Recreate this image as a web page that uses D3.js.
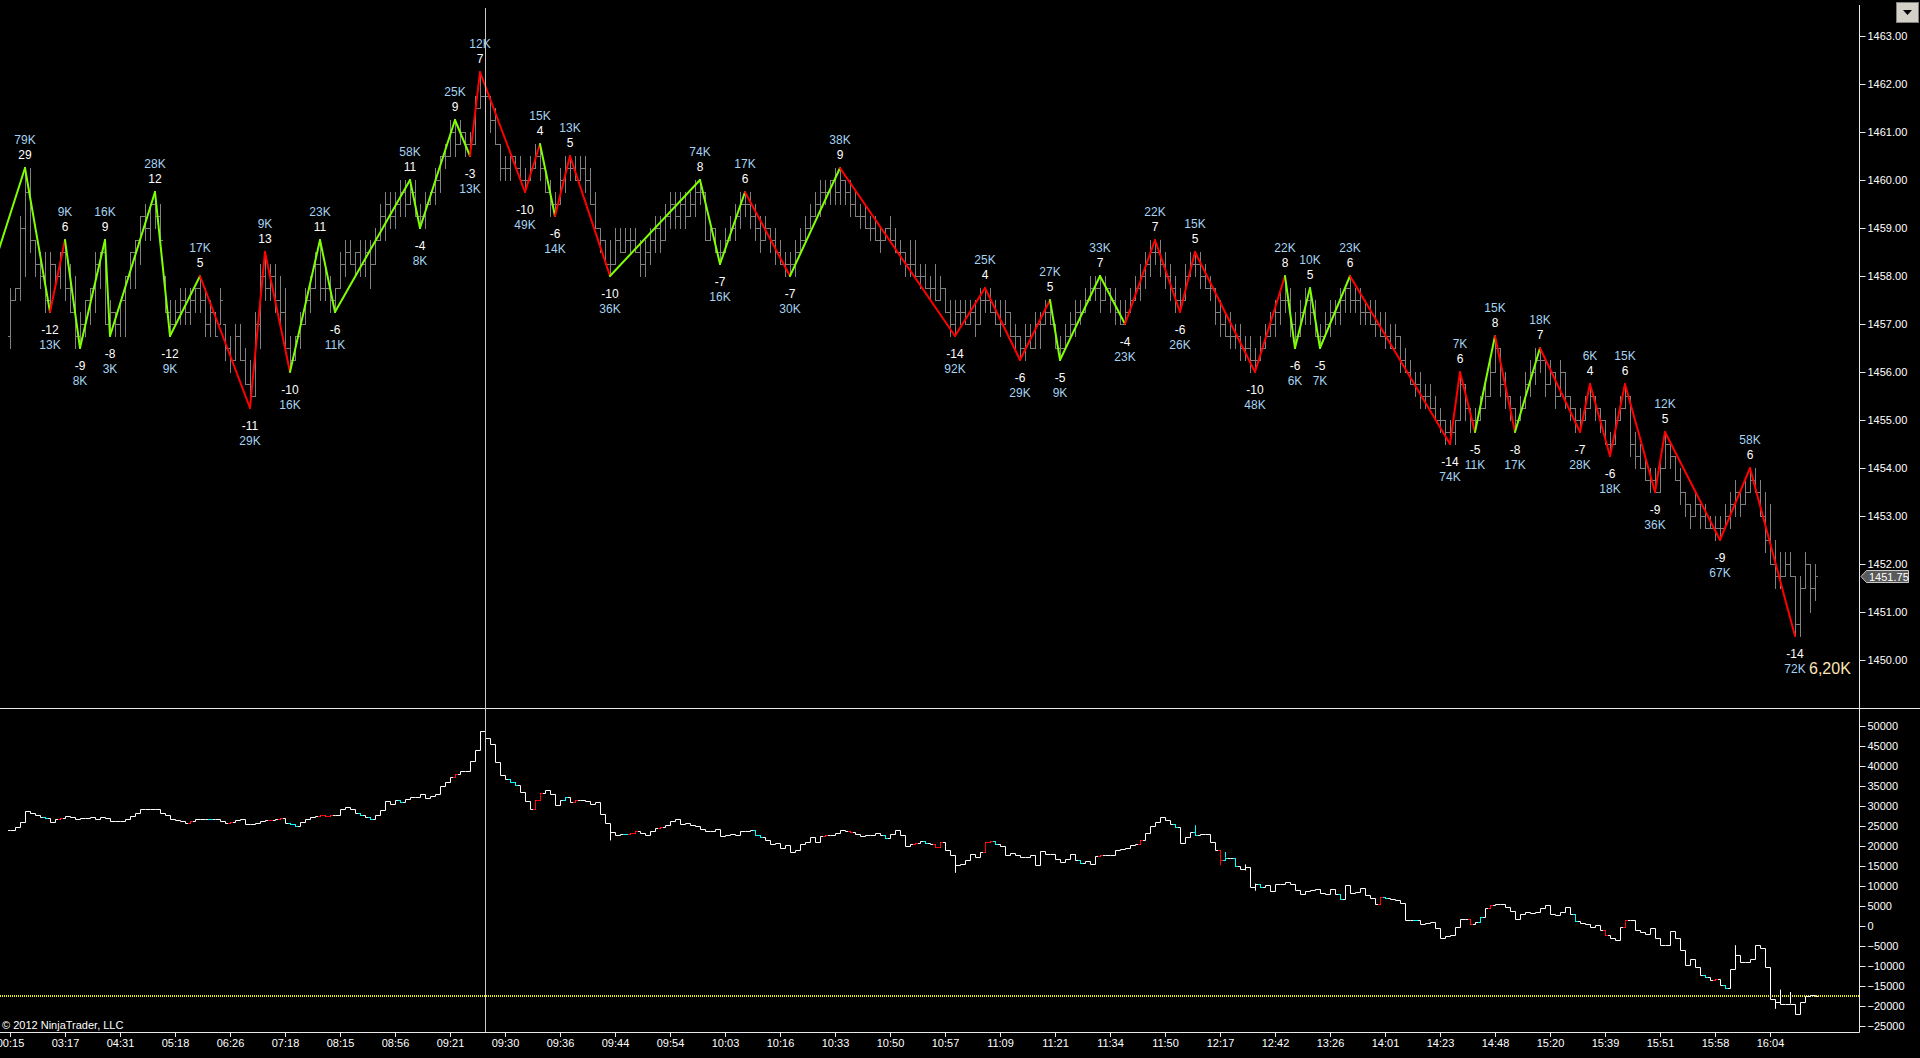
<!DOCTYPE html>
<html>
<head>
<meta charset="utf-8">
<script src="https://cdn.jsdelivr.net/npm/d3@7"></script>
<style>
  html, body { margin: 0; padding: 0; background: #000; overflow: hidden; }
  svg { display: block; }
  text { font-family: "Liberation Sans", Arial, sans-serif; }
</style>
</head>
<body>
<svg id="chart" width="1920" height="1058"></svg>
<script>
// bar index of the first drawn bar; bars are 5px apart
const FIRST_BAR = 2;

// price bars as [high, low, open, close] in quarter-point ticks above 1450.00
const priceBars = [
  [31,26,27,30],[31,30,30,31],[37,30,31,36],[41,32,36,39],[41,34,39,35],[35,32,35,33],[34,31,33,32],[34,29,32,30],[34,29,30,33],[33,31,33,32],
  [34,31,32,34],[35,30,34,31],[33,29,31,29],[32,26,29,27],[29,26,27,28],[30,27,28,30],[31,28,30,31],[34,29,31,33],[34,31,33,34],[35,28,34,28],
  [30,27,28,29],[29,27,29,28],[30,27,28,30],[32,27,30,32],[34,31,32,34],[35,31,34,35],[37,33,35,37],[38,35,37,36],[38,35,36,38],[39,36,38,37],
  [38,35,37,35],[32,29,32,29],[30,27,29,28],[30,28,28,29],[31,28,29,30],[31,28,30,29],[31,28,29,30],[31,29,30,31],[32,29,31,30],[31,27,30,28],
  [30,27,28,29],[29,27,29,27],[31,28,28,30],[28,25,28,26],[27,24,26,25],[28,25,25,27],[28,25,27,25],[26,23,25,23],[25,21,23,22],[29,22,22,28],
  [33,26,28,32],[34,30,32,31],[33,30,31,32],[33,29,32,30],[32,28,30,29],[31,26,29,26],[27,24,26,25],[27,25,25,27],[29,26,27,28],[31,28,28,30],
  [32,29,30,31],[34,31,31,33],[35,30,33,31],[33,30,31,31],[32,29,31,30],[31,29,30,31],[34,31,31,33],[35,32,33,34],[35,33,34,33],[34,32,33,34],
  [35,32,34,33],[35,32,33,34],[35,31,34,33],[36,33,33,35],[38,35,35,37],[39,35,37,38],[39,36,38,37],[39,36,37,38],[40,37,38,39],[40,37,39,38],
  [40,38,38,39],[40,37,39,37],[38,36,37,37],[39,36,37,38],[39,38,38,39],[41,38,39,40],[42,39,40,42],[43,41,42,42],[45,42,42,44],[45,42,44,43],
  [45,43,43,44],[44,42,44,43],[44,42,43,43],[47,43,43,46],[49,46,46,47],[48,46,47,47],[47,44,47,45],[46,43,45,43],[43,40,43,41],[42,40,41,41],
  [42,40,41,42],[42,41,42,41],[42,40,41,40],[41,39,40,40],[42,40,40,41],[43,41,41,42],[43,40,42,41],[41,39,41,39],[40,37,39,38],[39,37,38,38],
  [41,38,38,40],[42,39,40,41],[42,40,41,41],[42,40,41,40],[42,40,40,41],[42,39,41,40],[41,38,40,38],[39,36,38,36],[36,34,36,35],[35,33,35,33],
  [35,32,33,33],[36,33,33,35],[36,34,35,34],[36,34,34,35],[36,34,35,35],[36,34,35,34],[35,32,34,33],[35,32,33,34],[36,33,34,35],[37,34,35,36],
  [37,34,36,35],[38,35,35,37],[39,36,37,38],[39,36,38,37],[39,36,37,38],[39,36,38,37],[39,37,37,38],[40,37,38,39],[40,38,39,39],[39,35,39,35],
  [36,35,35,36],[36,34,36,34],[35,33,34,34],[36,34,34,35],[37,35,35,36],[38,35,36,37],[39,36,37,38],[39,37,38,38],[39,36,38,37],[38,35,37,36],
  [37,34,36,35],[37,35,35,36],[36,34,36,35],[36,33,35,34],[35,33,34,33],[34,32,33,33],[34,32,33,33],[35,32,33,34],[36,34,34,35],[37,35,35,36],
  [38,36,36,37],[39,37,37,38],[40,37,38,39],[40,38,39,39],[40,38,39,40],[41,38,40,39],[41,38,39,40],[40,38,40,39],[40,37,39,38],[39,37,38,37],
  [38,36,37,37],[38,36,37,36],[37,35,36,36],[37,35,36,35],[36,34,35,35],[36,35,35,36],[37,35,36,35],[36,34,35,34],[35,33,34,34],[34,32,34,33],
  [35,32,33,33],[35,32,33,32],[33,31,32,32],[33,31,32,31],[32,30,31,31],[33,30,31,30],[32,30,30,31],[31,29,31,29],[30,27,29,28],[30,27,28,29],
  [30,28,29,29],[30,28,29,28],[30,28,28,29],[30,27,29,28],[31,28,28,30],[31,29,30,30],[31,29,30,29],[30,28,29,28],[30,27,28,28],[30,28,28,29],
  [29,27,29,27],[28,26,27,27],[27,25,27,26],[28,25,26,27],[28,26,27,26],[29,26,26,28],[29,26,28,28],[30,28,28,29],[30,28,29,28],[28,26,28,26],
  [27,25,26,26],[28,26,26,27],[29,27,27,28],[30,27,28,29],[30,28,29,29],[31,29,29,30],[32,30,30,31],[32,30,31,31],[32,29,31,30],[32,30,30,31],
  [31,29,31,30],[31,28,30,29],[30,28,29,28],[30,28,28,29],[31,29,29,30],[32,30,30,31],[33,30,31,32],[34,31,32,33],[35,32,33,34],[35,33,34,34],
  [35,32,34,33],[34,31,33,32],[33,30,32,31],[32,29,31,30],[31,29,30,30],[33,30,30,32],[34,32,32,33],[34,32,33,33],[34,31,33,32],[33,31,32,31],
  [32,30,31,31],[31,28,31,29],[30,27,29,28],[29,27,28,27],[29,26,27,27],[28,26,27,27],[28,25,27,26],[27,25,26,26],[27,24,26,25],[26,24,25,25],
  [27,25,25,26],[28,26,26,27],[29,27,27,28],[30,27,28,29],[31,28,29,30],[32,29,30,30],[31,27,30,28],[29,26,28,27],[30,27,27,29],[31,28,29,30],
  [31,28,30,29],[30,27,29,27],[28,26,27,27],[29,27,27,28],[30,27,28,29],[30,28,29,29],[31,28,29,30],[31,29,30,31],[32,29,31,30],[31,29,30,30],
  [31,28,30,29],[30,28,29,29],[30,28,29,28],[30,27,28,28],[29,27,28,27],[29,26,27,27],[28,26,27,26],[28,26,26,27],[27,24,27,25],[26,24,25,24],
  [25,23,24,23],[24,22,23,23],[24,21,23,22],[23,21,22,22],[23,21,22,21],[22,20,21,20],[21,19,20,20],[20,18,20,19],[20,18,19,19],[20,18,19,20],
  [24,20,20,23],[23,20,23,21],[21,19,21,20],[21,19,20,20],[22,20,20,21],[23,21,21,22],[25,22,22,24],[27,24,24,26],[26,22,26,23],[24,21,23,22],
  [22,20,22,21],[21,19,21,20],[22,20,20,21],[24,21,21,23],[25,22,23,24],[26,23,24,25],[26,24,25,25],[25,22,25,23],[25,23,23,24],[24,21,24,22],
  [25,22,22,24],[24,21,24,22],[22,20,22,21],[21,19,21,20],[21,19,20,20],[22,20,20,21],[23,21,21,22],[22,20,22,21],[21,19,21,20],[20,18,20,18],
  [19,17,18,18],[21,18,18,20],[22,20,20,21],[23,21,21,22],[22,17,22,18],[19,16,18,17],[18,16,17,16],[17,15,16,15],[16,14,15,15],[16,14,15,14],
  [17,14,14,16],[19,16,16,18],[18,16,18,17],[17,15,17,15],[16,13,15,14],[14,12,14,13],[13,11,13,12],[14,12,12,13],[13,11,13,12],[13,11,12,11],
  [12,11,11,11],[12,10,11,11],[12,10,11,11],[13,11,11,12],[14,11,12,13],[15,12,13,14],[14,12,14,13],[15,13,13,14],[16,14,14,15],[16,14,15,14],
  [15,12,14,12],[14,9,12,10],[13,8,10,8],[10,6,8,7],[9,6,7,7],[9,7,7,8],[9,7,8,7],[7,2,7,3],[7,2,3,6],[9,6,6,8],
  [8,4,8,6],[8,5,6,7]
];

// zigzag swing points: [bar, tick, volume, count]; negative count = swing low
const zigStart = [-5, 28];
const swings = [
  [5,41,'79K','29'],[10,29,'13K','-12'],[13,35,'9K','6'],[16,26,'8K','-9'],[21,35,'16K','9'],
  [22,27,'3K','-8'],[31,39,'28K','12'],[34,27,'9K','-12'],[40,32,'17K','5'],[50,21,'29K','-11'],
  [53,34,'9K','13'],[58,24,'16K','-10'],[64,35,'23K','11'],[67,29,'11K','-6'],[82,40,'58K','11'],
  [84,36,'8K','-4'],[91,45,'25K','9'],[94,42,'13K','-3'],[96,49,'12K','7'],[105,39,'49K','-10'],
  [108,43,'15K','4'],[111,37,'14K','-6'],[114,42,'13K','5'],[122,32,'36K','-10'],[140,40,'74K','8'],
  [144,33,'16K','-7'],[149,39,'17K','6'],[158,32,'30K','-7'],[168,41,'38K','9'],[191,27,'92K','-14'],
  [197,31,'25K','4'],[204,25,'29K','-6'],[210,30,'27K','5'],[212,25,'9K','-5'],[220,32,'33K','7'],
  [225,28,'23K','-4'],[231,35,'22K','7'],[236,29,'26K','-6'],[239,34,'15K','5'],[251,24,'48K','-10'],
  [257,32,'22K','8'],[259,26,'6K','-6'],[262,31,'10K','5'],[264,26,'7K','-5'],[270,32,'23K','6'],
  [290,18,'74K','-14'],[292,24,'7K','6'],[295,19,'11K','-5'],[299,27,'15K','8'],[303,19,'17K','-8'],
  [308,26,'18K','7'],[316,19,'28K','-7'],[318,23,'6K','4'],[322,17,'18K','-6'],[325,23,'15K','6'],
  [331,14,'36K','-9'],[333,19,'12K','5'],[344,10,'67K','-9'],[350,16,'58K','6'],[359,2,'72K','-14']
];
// colour of the leg that ends at each swing (G = green, R = red)
const legColors = ('GGRGGGGGGR' + 'RRGGGGGGRR' + 'RGRRGGGRGR' + 'RRRGGGRRRR' + 'RGGGGRRRGR' + 'GRRRRRRRRR').split('');

// cumulative delta, close of each bar (contracts)
const deltaClose = [
  23900,24700,26000,28700,28300,27800,27300,27000,26000,26800,
  27100,27500,27300,26700,26900,27100,27300,26700,27300,26900,
  26300,26300,26300,26800,27500,28300,29200,29200,29200,29200,
  28300,27700,26800,26400,26300,25800,26300,26800,26800,26800,
  26700,26800,26300,25800,26100,26400,26700,25400,25600,25800,
  26300,26400,26600,26800,27000,25800,25500,24900,26000,26800,
  27300,27400,27700,27500,27700,27800,29200,29800,29200,28300,
  27800,27300,26800,27700,28900,31200,30600,31400,31000,31800,
  32300,32300,32900,32100,32400,33100,35000,36000,37300,37900,
  38700,38800,41200,44100,48800,47100,45600,41000,37700,36700,
  36000,35200,33500,31300,29300,31400,33300,33900,32900,30300,
  31400,32300,31000,31600,31400,31300,30400,31000,28100,25800,
  23500,22800,23100,22900,23300,23800,23300,22700,23700,24600,
  24800,25200,26200,26800,25600,25800,25200,24900,24300,23700,
  23700,24300,22400,22800,22900,22700,23700,23800,23900,22800,
  22300,21400,20400,20800,19600,20200,18500,19100,20400,21000,
  22300,21000,22400,22700,22800,23300,23900,23700,23500,22900,
  22400,22700,22700,23300,22700,22000,23100,24100,22800,20000,
  20400,20800,21200,20800,20400,19800,21000,18900,17700,15300,
  15600,16600,18100,17300,18500,21000,21200,20400,19900,17700,
  18300,17700,17300,17300,17700,15300,18700,18100,17900,16800,
  16000,16800,17900,16600,15800,16300,15600,17400,17700,17700,
  17700,19100,19300,19600,20200,20600,21600,23300,24900,26000,
  27300,26400,25400,24800,20800,22300,23500,22700,22900,23100,
  21000,18900,16600,17100,17100,15000,14200,14800,9800,10600,
  9800,10200,8800,10600,10400,11000,10400,9100,8100,8800,
  8900,9300,8300,7900,9300,8100,6700,10200,8300,8500,
  9600,7700,7100,5600,7300,7100,6700,6400,5800,1600,
  1400,1400,400,800,1000,-400,-2900,-2600,-2200,-200,
  1700,1800,400,1000,2300,4600,5200,5400,5400,4800,
  3800,1800,3100,3500,3300,3500,4600,5200,3100,2700,
  3500,4800,3100,1300,800,600,-200,200,-900,-2300,
  -2900,-3400,-200,1400,1400,-900,-1500,-1900,-400,-2900,
  -4800,-4800,-1200,-2900,-5900,-9700,-8200,-10200,-12200,-12700,
  -13400,-13200,-14800,-15400,-10700,-7300,-9000,-9000,-8200,-4800,
  -5400,-10200,-18200,-19000,-19400,-19400,-19400,-21900,-19000,-17600,
  -17300,-17600
];
// bars whose delta range reaches past open/close: [bar, high, low]
const deltaWicks = [
  [122,23500,21400],[183,20800,20200],[191,15300,13300],[239,25200,22700],[244,17300,15200],
  [245,18500,17100],[249,15400,13900],[251,10600,8800],[347,-4800,-8600],[355,-19000,-20700],
  [356,-15900,-19400],[358,-16500,-19400]
];
const deltaCyanBars = [9,42,58,59,72,74,80,102,103,113,125,151,152,177,185,199,216,235,239,245,247,252,268,277,283,296,315,341,345];
const deltaRedBars = [12,38,46,54,56,64,65,66,91,107,108,115,126,127,132,165,170,183,187,188,197,198,220,228,244,276,294,298,321,325,343];

const priceTicks = [1450,1451,1452,1453,1454,1455,1456,1457,1458,1459,1460,1461,1462,1463];
const deltaTicks = [-25000,-20000,-15000,-10000,-5000,0,5000,10000,15000,20000,25000,30000,35000,40000,45000,50000];
const timeLabels = ['00:15','03:17','04:31','05:18','06:26','07:18','08:15','08:56','09:21','09:30','09:36',
  '09:44','09:54','10:03','10:16','10:33','10:50','10:57','11:09','11:21','11:34','11:50',
  '12:17','12:42','13:26','14:01','14:23','14:48','15:20','15:39','15:51','15:58','16:04'];
const sessionVolume = '6,20K';
const copyright = '\u00a9 2012 NinjaTrader, LLC';

const GREEN = '#7fff00';
const RED = '#ff0000';
const VOL_COLOR = '#a6d3f2';
const AXIS_X = 1859.5;
const X_AXIS_Y = 1032.5;
const CROSS_BAR = 97;

const LAST_BAR = FIRST_BAR + priceBars.length - 1;
const svg = d3.select('#chart');
svg.append('rect').attr('width', 1920).attr('height', 1058).attr('fill', '#000');

const x = d3.scaleLinear().domain([0, LAST_BAR]).range([0, LAST_BAR * 5]);
const yPrice = d3.scaleLinear().domain([1450, 1463]).range([660, 36]);
const yDelta = d3.scaleLinear().domain([-25000, 50000]).range([1026, 726]);
const crisp = (v) => Math.round(v) + 0.5;
const tickPrice = (t) => 1450 + t / 4;

// ---- price bars
const barPath = priceBars.map((b, k) => {
  const cx = crisp(x(FIRST_BAR + k));
  const [h, l, o, c] = b.map((t) => crisp(yPrice(tickPrice(t))));
  return `M${cx},${h - 0.5}V${l + 0.5}M${cx - 2.5},${o}H${cx}M${cx},${c}H${cx + 2.5}`;
}).join('');
svg.append('path')
  .attr('d', barPath)
  .attr('fill', 'none')
  .attr('stroke', '#808080')
  .attr('stroke-width', 1);

// ---- zigzag
const zigPts = [zigStart, ...swings].map((s) => [x(s[0]), yPrice(tickPrice(s[1]))]);
const legs = swings.map((s, k) => ({ a: zigPts[k], b: zigPts[k + 1], c: legColors[k] === 'G' ? GREEN : RED }));
svg.append('g')
  .selectAll('line')
  .data(legs)
  .join('line')
  .attr('x1', (d) => d.a[0]).attr('y1', (d) => d.a[1])
  .attr('x2', (d) => d.b[0]).attr('y2', (d) => d.b[1])
  .attr('stroke', (d) => d.c)
  .attr('stroke-width', 2)
  .attr('stroke-linecap', 'round');

// ---- swing labels
const labelData = [];
swings.forEach(([bar, tick, vol, count]) => {
  const cx = x(bar);
  const cy = yPrice(tickPrice(tick));
  if (count.startsWith('-')) {
    labelData.push({ x: cx, y: cy + 18, t: count, c: '#ffffff' });
    labelData.push({ x: cx, y: cy + 33, t: vol, c: VOL_COLOR });
  } else {
    labelData.push({ x: cx, y: cy - 28, t: vol, c: VOL_COLOR });
    labelData.push({ x: cx, y: cy - 13, t: count, c: '#ffffff' });
  }
});
svg.append('g')
  .attr('font-size', 12)
  .attr('text-anchor', 'middle')
  .selectAll('text')
  .data(labelData)
  .join('text')
  .attr('x', (d) => d.x)
  .attr('y', (d) => d.y + 4.3)
  .attr('fill', (d) => d.c)
  .text((d) => d.t);

const lastBar = priceBars[priceBars.length - 1];
const lowLast = swings[swings.length - 1];
svg.append('text')
  .attr('x', x(lowLast[0]) + 14)
  .attr('y', yPrice(tickPrice(lowLast[1])) + 38)
  .attr('font-size', 16)
  .attr('fill', '#ffe4b5')
  .text(sessionVolume);

// ---- panel frame
svg.append('line').attr('x1', 0).attr('x2', 1920).attr('y1', 708.5).attr('y2', 708.5).attr('stroke', '#e8e8e8');
svg.append('line').attr('x1', 0).attr('x2', AXIS_X).attr('y1', X_AXIS_Y).attr('y2', X_AXIS_Y).attr('stroke', '#e8e8e8');
svg.append('line').attr('x1', AXIS_X).attr('x2', AXIS_X).attr('y1', 5).attr('y2', X_AXIS_Y).attr('stroke', '#e8e8e8');

// ---- cumulative delta
const lastDelta = deltaClose[deltaClose.length - 1];
const lastDeltaY = Math.round(yDelta(lastDelta));
svg.append('line')
  .attr('x1', 0).attr('x2', AXIS_X - 0.5)
  .attr('y1', lastDeltaY).attr('y2', lastDeltaY)
  .attr('stroke', '#f4f400')
  .attr('stroke-width', 2)
  .attr('stroke-dasharray', '1,1')
  .attr('shape-rendering', 'crispEdges');

const dPts = deltaClose.map((v, k) => [crisp(x(FIRST_BAR + k)), crisp(yDelta(v))]);
const stepPts = [[dPts[0][0] - 2.5, dPts[0][1]], ...dPts, [dPts[dPts.length - 1][0] + 2.5, dPts[dPts.length - 1][1]]];
svg.append('path')
  .attr('d', d3.line().curve(d3.curveStepAfter)(stepPts))
  .attr('fill', 'none')
  .attr('stroke', '#ffffff')
  .attr('stroke-width', 1);

const wickColor = (bar) => deltaCyanBars.includes(bar) ? '#00ffff' : deltaRedBars.includes(bar) ? RED : '#ffffff';
svg.append('g')
  .selectAll('line')
  .data(deltaWicks)
  .join('line')
  .attr('x1', (d) => crisp(x(d[0]))).attr('x2', (d) => crisp(x(d[0])))
  .attr('y1', (d) => yDelta(d[1])).attr('y2', (d) => yDelta(d[2]))
  .attr('stroke', (d) => wickColor(d[0]));

const colouredBar = (bar) => {
  const k = bar - FIRST_BAR;
  const cx = crisp(x(bar));
  const y0 = crisp(yDelta(deltaClose[k - 1]));
  const y1 = crisp(yDelta(deltaClose[k]));
  return `M${cx - 2.5},${y0}H${cx}V${y1}H${cx + 2.5}`;
};
svg.append('path').attr('d', deltaCyanBars.map(colouredBar).join('')).attr('fill', 'none').attr('stroke', '#00ffff');
svg.append('path').attr('d', deltaRedBars.map(colouredBar).join('')).attr('fill', 'none').attr('stroke', RED);

// ---- axes
const styleAxis = (g) => {
  g.select('.domain').remove();
  g.selectAll('line').attr('stroke', '#e8e8e8');
  g.selectAll('text')
    .attr('fill', '#ffffff')
    .attr('font-size', 11)
    .attr('font-family', '"Liberation Sans", Arial, sans-serif');
};

svg.append('g')
  .attr('transform', `translate(${AXIS_X},0)`)
  .call(d3.axisRight(yPrice).tickValues(priceTicks).tickSize(6).tickPadding(2).tickFormat(d3.format('.2f')))
  .call(styleAxis);

svg.append('g')
  .attr('transform', `translate(${AXIS_X},0)`)
  .call(d3.axisRight(yDelta).tickValues(deltaTicks).tickSize(6).tickPadding(2).tickFormat(d3.format('d')))
  .call(styleAxis);

const timeTickBars = timeLabels.map((_, k) => FIRST_BAR + 11 * k);
svg.append('g')
  .attr('transform', `translate(0,${X_AXIS_Y - 0.5})`)
  .call(d3.axisBottom(x).tickValues(timeTickBars).tickSize(5).tickPadding(2).tickFormat((d, k) => timeLabels[k]))
  .call(styleAxis);

// ---- last price marker
const lastY = crisp(yPrice(tickPrice(lastBar[3])));
svg.append('path')
  .attr('d', `M${AXIS_X + 1.5},${lastY}L${AXIS_X + 7},${lastY - 6}H1908.5V${lastY + 6}H${AXIS_X + 7}Z`)
  .attr('fill', '#5a5a5a')
  .attr('stroke', '#c8c8c8');
svg.append('text')
  .attr('x', 1869)
  .attr('y', lastY + 4)
  .attr('font-size', 11)
  .attr('fill', '#ffffff')
  .text(tickPrice(lastBar[3]).toFixed(2));

// ---- crosshair
svg.append('line')
  .attr('x1', crisp(x(CROSS_BAR))).attr('x2', crisp(x(CROSS_BAR)))
  .attr('y1', 8).attr('y2', X_AXIS_Y)
  .attr('stroke', '#c8c8c8');

// ---- corner button and copyright
svg.append('rect').attr('x', 1896.5).attr('y', 2.5).attr('width', 22).attr('height', 20)
  .attr('fill', '#d4d0c8').attr('stroke', '#808080');
svg.append('path').attr('d', 'M1903,10H1912L1907.5,15Z').attr('fill', '#000');

svg.append('text')
  .attr('x', 2)
  .attr('y', 1029)
  .attr('font-size', 11)
  .attr('fill', '#ffffff')
  .text(copyright);
</script>
</body>
</html>
